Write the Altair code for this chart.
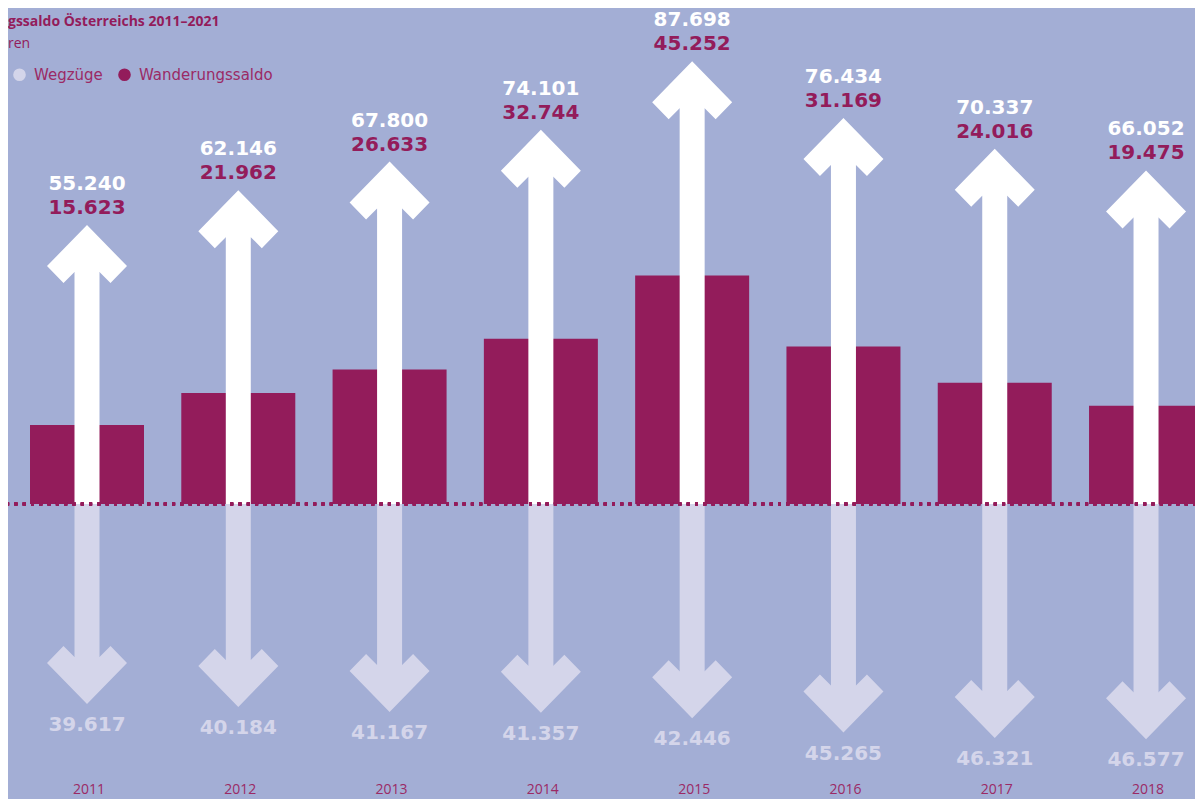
import altair as alt
import pandas as pd

# ---- data ----
years = [2011, 2012, 2013, 2014, 2015, 2016, 2017, 2018]
zuzuege = [55240, 62146, 67800, 74101, 87698, 76434, 70337, 66052]
wegzuege = [39617, 40184, 41167, 41357, 42446, 45265, 46321, 46577]
saldo = [15623, 21962, 26633, 32744, 45252, 31169, 24016, 19475]
legend_items = ["Wegzüge", "Wanderungssaldo"]
title_line1 = ["gssaldo Österreichs 2011–2021"]
title_line2 = ["ren"]

# ---- styles ----
BG = "#a3aed5"
MAGENTA = "#931c5b"
LAVENDER = "#d4d5ea"
WHITE = "#ffffff"
W, H = 1187, 791

df = pd.DataFrame({"year": years, "zuzuege": zuzuege, "wegzuege": wegzuege, "saldo": saldo})

xs = alt.Scale(domain=[2010.4778, 2018.3237], nice=False, zero=False, padding=0)
ys = alt.Scale(domain=[-58416, 98218], nice=False, zero=False, padding=0)

X = alt.X("year:Q", scale=xs, axis=None)

base = alt.Chart(df).transform_calculate(
    neg_weg="-datum.wegzuege",
    up_stem="datum.zuzuege - 8500",
    down_stem="-(datum.wegzuege - 8500)",
    zl="replace(format(datum.zuzuege, ','), ',', '.')",
    sl="replace(format(datum.saldo, ','), ',', '.')",
    wl="replace(format(datum.wegzuege, ','), ',', '.')",
    yl="toString(datum.year)",
    s_saldo="'Wanderungssaldo'",
    s_weg="'Wegzüge'",
)

color_scale = alt.Scale(domain=legend_items, range=[LAVENDER, MAGENTA])
legend = alt.Legend(
    orient="none", legendX=4, legendY=59, direction="horizontal", title=None,
    symbolType="circle", symbolSize=160, symbolStrokeWidth=0, symbolOpacity=1,
    labelFont="DejaVu Sans", labelFontSize=15, labelColor="#9b2a65",
    labelOffset=7, columnPadding=14, padding=0,
)

saldo_bars = base.mark_bar(size=114).encode(
    x=X,
    y=alt.Y("saldo:Q", scale=ys, axis=None),
    y2=alt.datum(0),
    color=alt.Color("s_saldo:N", scale=color_scale, legend=legend),
)

up_stems = base.mark_bar(size=25, color=WHITE).encode(
    x=X, y=alt.Y("up_stem:Q", scale=ys), y2=alt.datum(0)
)

up_path = "M0,0 L40,41 L23.5,58 L12.5,47 L-12.5,47 L-23.5,58 L-40,41 Z"
down_path = "M0,0 L40,-41 L23.5,-58 L12.5,-47 L-12.5,-47 L-23.5,-58 L-40,-41 Z"

up_heads = base.mark_point(shape=up_path, size=4, filled=True, opacity=1, color=WHITE, strokeWidth=0).encode(
    x=X, y=alt.Y("zuzuege:Q", scale=ys)
)

down_stems = base.mark_bar(size=25).encode(
    x=X, y=alt.Y("down_stem:Q", scale=ys), y2=alt.datum(0),
    color=alt.Color("s_weg:N", scale=color_scale, legend=legend),
)

down_heads = base.mark_point(shape=down_path, size=4, filled=True, opacity=1, color=LAVENDER, strokeWidth=0).encode(
    x=X, y=alt.Y("neg_weg:Q", scale=ys)
)

zero_line = alt.Chart(df).mark_rule(color=MAGENTA, strokeWidth=3, strokeDash=[3, 5.3], strokeDashOffset=1).encode(
    y=alt.datum(0)
)

num_font = dict(font="DejaVu Sans", fontWeight="bold", fontSize=20, baseline="middle", align="center")

zuz_text = base.mark_text(color=WHITE, dy=-41, **num_font).encode(
    x=X, y=alt.Y("zuzuege:Q", scale=ys), text="zl:N"
)
saldo_text = base.mark_text(color=MAGENTA, dy=-17, **num_font).encode(
    x=X, y=alt.Y("zuzuege:Q", scale=ys), text="sl:N"
)
weg_text = base.mark_text(color=LAVENDER, dy=21, **num_font).encode(
    x=X, y=alt.Y("neg_weg:Q", scale=ys), text="wl:N"
)
year_text = base.mark_text(color="#9b2a65", font="Open Sans", fontSize=14, baseline="middle", align="center", dx=2).encode(
    x=X, y=alt.value(782), text="yl:N"
)

t1 = alt.Chart(pd.DataFrame({"t": title_line1})).mark_text(
    color=MAGENTA, font="Open Sans", fontWeight="bold", fontSize=14, align="left", baseline="middle"
).encode(x=alt.value(0), y=alt.value(14), text="t:N")
t2 = alt.Chart(pd.DataFrame({"t": title_line2})).mark_text(
    color=MAGENTA, font="Open Sans", fontSize=14, align="left", baseline="middle"
).encode(x=alt.value(0), y=alt.value(36), text="t:N")

chart = alt.layer(
    saldo_bars, up_stems, up_heads, down_stems, down_heads, zero_line,
    zuz_text, saldo_text, weg_text, year_text, t1, t2,
).properties(
    width=W, height=H, background=BG, padding=0,
    autosize=alt.AutoSizeParams(type="none"),
).configure_view(strokeWidth=0)

chart.save("out.html", embed_options={"renderer": "svg", "actions": False})
